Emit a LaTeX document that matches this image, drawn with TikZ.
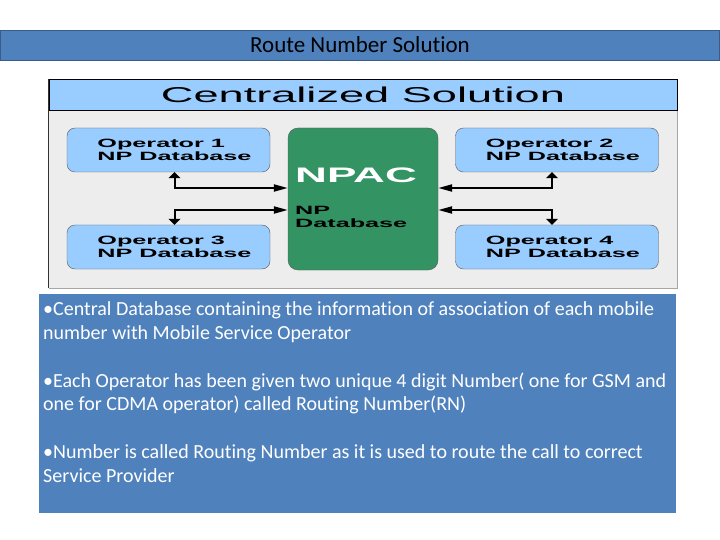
\documentclass[tikz,border=0pt]{standalone}
\usepackage{fontspec}
\setmainfont{Carlito}[Ligatures=NoCommon]
\newfontfamily\diafont[FakeStretch=2.1]{Liberation Sans}
\usetikzlibrary{positioning,arrows.meta}
\definecolor{slideblue}{RGB}{79,129,189}
\definecolor{slideedge}{RGB}{56,93,138}
\definecolor{lightblue}{RGB}{153,204,255}
\definecolor{npacgreen}{RGB}{51,147,99}
\definecolor{panelgray}{RGB}{237,237,237}

\begin{document}
\begin{tikzpicture}[x=1pt,y=-1pt,
    opbox/.style={rectangle, rounded corners=8pt, draw=black!65, fill=lightblue,
        minimum width=203pt, minimum height=44pt, inner sep=0pt, align=left,
        font=\diafont\bfseries\fontsize{12}{13}\selectfont},
    npacbox/.style={rectangle, rounded corners=10pt, draw=black!65, fill=npacgreen,
        minimum width=150pt, minimum height=142pt, inner sep=0pt},
    link/.style={line width=2pt, arrows={Triangle[length=6pt,width=12pt]-Triangle[length=14pt,width=7pt]}}
]
\useasboundingbox (0,0) rectangle (720,540);
% Background
\shade[top color=white, middle color=slideblue, bottom color=white] (0,0) rectangle (720,540);

% Title bar
\node[rectangle, draw=slideedge, fill=slideblue, minimum width=719pt, minimum height=30pt,
    inner sep=0pt, font=\fontsize{23}{23}\selectfont] (title) at (360,45) {Route Number Solution};

% Centralized solution panel
\fill[panelgray] (49,110) rectangle (677,288);
\draw[black!35] (677,110) -- (677,288) -- (49,288);
\draw[black!80] (48.5,79) -- (48.5,288);
\node[rectangle, draw=black, fill=lightblue, minimum width=628pt, minimum height=31pt,
    inner sep=0pt, font=\diafont\fontsize{21.5}{21.5}\selectfont] (cbar) at (363,94.5) {Centralized Solution};

% Operators
\node[opbox] (op1) at (168.5,150) {\hspace*{12pt}Operator 1\\\hspace*{12pt}NP Database};
\node[opbox] (op2) at (557,150) {\hspace*{12pt}Operator 2\\\hspace*{12pt}NP Database};
\node[opbox] (op3) at (168.5,247) {\hspace*{12pt}Operator 3\\\hspace*{12pt}NP Database};
\node[opbox] (op4) at (557,247) {\hspace*{12pt}Operator 4\\\hspace*{12pt}NP Database};

% NPAC
\node[npacbox] (npac) at (363,199) {};
\node[anchor=base west, inner sep=0pt, text=white,
    font=\diafont\bfseries\fontsize{21}{21}\selectfont] (npactitle) at (295,183) {NPAC};
\node[anchor=north west, inner sep=0pt, align=left,
    font=\diafont\bfseries\fontsize{12}{13}\selectfont] (npacdb) at (295,206.5) {NP\\Database};

% Links
\draw[link] ([xshift=6pt]op1.south) |- ([yshift=11pt]npac.west);
\draw[link] ([xshift=6pt]op3.north) |- ([yshift=-11pt]npac.west);
\draw[link] ([xshift=-5pt]op2.south) |- ([yshift=11pt]npac.east);
\draw[link] ([xshift=-5pt]op4.north) |- ([yshift=-11pt]npac.east);

% Notes
\node[rectangle, draw=white, line width=2pt, fill=slideblue, minimum width=639pt,
    minimum height=221pt, inner sep=0pt] (notes) at (357.5,403.5) {};
\node[anchor=north west, inner sep=0pt, align=left, text=white,
    font=\fontsize{20}{23.8}\selectfont] (notetext) at (43,301.5)
    {•Central Database containing the information of association of each mobile\\
     number with Mobile Service Operator\\[24pt]
     •Each Operator has been given two unique 4 digit Number( one for GSM and\\
     one for CDMA operator) called Routing Number(RN)\\[24pt]
     •Number is called Routing Number as it is used to route the call to correct\\
     Service Provider};
\end{tikzpicture}
\end{document}
